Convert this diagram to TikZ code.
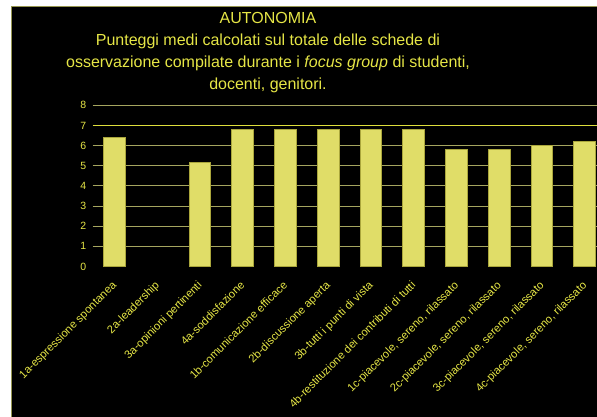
\documentclass[tikz,border=0pt]{standalone}
\usepackage{fontspec}
\setmainfont{Liberation Sans}
\definecolor{txt}{RGB}{230,230,70}
\definecolor{barc}{RGB}{224,221,104}
\definecolor{barline}{RGB}{170,166,60}
\definecolor{gridc}{RGB}{165,165,95}
\definecolor{gridhi}{RGB}{222,222,60}
\definecolor{framec}{RGB}{150,150,80}
\tikzset{
  ticklab/.style={text=txt, anchor=east, inner sep=0pt, font=\fontsize{10.5}{12}\selectfont},
  catlab/.style={text=txt, anchor=north east, inner sep=0pt, rotate=45, font=\fontsize{11.2}{13}\selectfont},
  gridline/.style={draw=gridc, line width=1pt},
  barbox/.style={fill=barc, draw=barline, line width=0.4pt},
  titlebox/.style={text=txt, align=center, inner sep=0pt, font=\fontsize{16}{22}\selectfont}
}
\begin{document}
\begin{tikzpicture}[x=1pt,y=-1pt]
\useasboundingbox (0,0) rectangle (597,417);
\fill[white] (0,0) rectangle (597,417);
\filldraw[fill=black, draw=framec, line width=0.8pt] (11,6) rectangle (602,422);
% title
\node[titlebox, anchor=north] (title) at (268,12) {AUTONOMIA\\Punteggi medi calcolati sul totale delle schede di\\osservazione compilate durante i \textit{focus group} di studenti,\\docenti, genitori.};
% grid and ticks
\foreach \v in {0,...,8} {
  \pgfmathsetmacro{\yy}{266.5-20.15*\v}
  \node[ticklab] (t\v) at (86.5,\yy) {\v};
}
\foreach \v in {1,2,3,4,5,6,8} {
  \pgfmathsetmacro{\yy}{266.5-20.15*\v}
  \draw[gridline] (92.7,\yy) -- (597,\yy);
}
\draw[draw=gridhi, line width=1.6pt] (92.7,125.45) -- (597,125.45);
% bars
\foreach \i/\val in {1/6.4,3/5.2,4/6.8,5/6.8,6/6.8,7/6.8,8/6.8,9/5.8,10/5.8,11/6.0,12/6.2} {
  \pgfmathsetmacro{\cx}{114.2+42.75*(\i-1)}
  \pgfmathsetmacro{\top}{266.5-20.15*\val}
  \draw[barbox] (\cx-10.8,266.5) rectangle (\cx+10.8,\top);
}
% category labels
\foreach \i/\lab in {1/1a-espressione spontanea,2/2a-leadership,3/3a-opinioni pertinenti,4/4a-soddisfazione,5/1b-comunicazione efficace,6/2b-discussione aperta,7/3b-tutti i punti di vista,8/4b-restituzione dei contributi di tutti,9/{1c-piacevole, sereno, rilassato},10/{2c-piacevole, sereno, rilassato},11/{3c-piacevole, sereno, rilassato},12/{4c-piacevole, sereno, rilassato}} {
  \pgfmathsetmacro{\cx}{114.2+42.75*(\i-1)-3}
  \node[catlab] (c\i) at (\cx,280) {\lab};
}
\end{tikzpicture}
\end{document}
